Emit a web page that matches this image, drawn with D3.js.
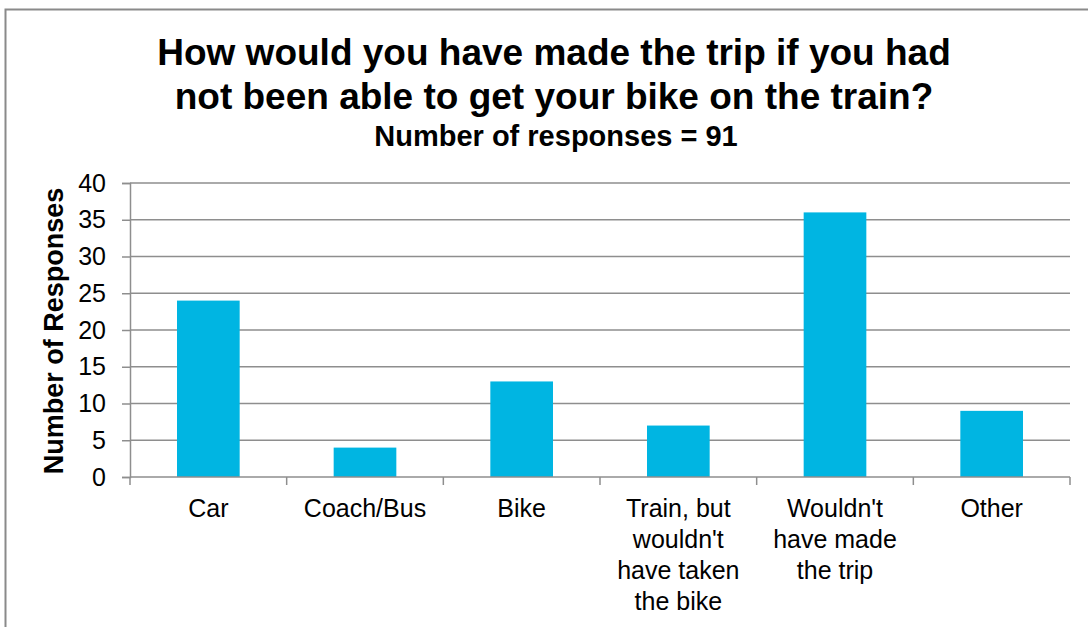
<!DOCTYPE html>
<html>
<head>
<meta charset="utf-8">
<script src="https://cdn.jsdelivr.net/npm/d3@7"></script>
<style>
  html, body { margin: 0; padding: 0; background: #fff; }
  svg { display: block; font-family: "Liberation Sans", Arial, sans-serif; }
</style>
</head>
<body>
<svg id="chart" width="1088" height="627"></svg>
<script>
// Survey answers: alternative travel mode if the bike could not go on the train
const categories = ["Car", "Coach/Bus", "Bike", "Train, but wouldn't have taken the bike", "Wouldn't have made the trip", "Other"];
const categoryLines = [["Car"], ["Coach/Bus"], ["Bike"], ["Train, but", "wouldn't", "have taken", "the bike"], ["Wouldn't", "have made", "the trip"], ["Other"]];
const responses = [24, 4, 13, 7, 36, 9];
const yTicks = [0, 5, 10, 15, 20, 25, 30, 35, 40];
const titleLines = ["How would you have made the trip if you had", "not been able to get your bike on the train?"];
const subtitle = "Number of responses = 91";
const yAxisTitle = "Number of Responses";

const svg = d3.select("#chart");
const plot = { left: 130, right: 1070, top: 183, bottom: 477 };
const gridColor = "#8e8e8e";
const barColor = "#00b5e2";

// chart area frame
svg.append("rect")
  .attr("x", 5.5).attr("y", 9.5)
  .attr("width", 1200).attr("height", 800)
  .attr("fill", "none").attr("stroke", "#8a8a8a").attr("stroke-width", 2);

// titles
const titleCx = 554;
svg.selectAll("text.title").data(titleLines).join("text")
  .attr("class", "title")
  .attr("x", titleCx).attr("y", (d, i) => 65 + i * 43.5)
  .attr("text-anchor", "middle")
  .attr("font-weight", "bold").attr("font-size", 37)
  .attr("fill", "#000")
  .text(d => d);

svg.append("text")
  .attr("x", titleCx + 2).attr("y", 146)
  .attr("text-anchor", "middle")
  .attr("font-weight", "bold").attr("font-size", 29)
  .text(subtitle);

// scales
const x = d3.scaleBand().domain(categories)
  .range([plot.left, plot.right])
  .paddingInner(0.6).paddingOuter(0.3);
const y = d3.scaleLinear().domain([0, 40]).range([plot.bottom, plot.top]);

// horizontal gridlines
svg.append("g").selectAll("line").data(yTicks.filter(t => t > 0)).join("line")
  .attr("x1", plot.left).attr("x2", plot.right)
  .attr("y1", d => y(d)).attr("y2", d => y(d))
  .attr("stroke", gridColor).attr("stroke-width", 1.5);

// y axis
const yAxis = svg.append("g")
  .attr("transform", `translate(${plot.left},0)`)
  .call(d3.axisLeft(y).tickValues(yTicks).tickSize(8).tickPadding(16));
yAxis.select(".domain").attr("stroke", gridColor).attr("stroke-width", 1.5);
yAxis.selectAll(".tick line").attr("stroke", gridColor).attr("stroke-width", 1.5);
yAxis.selectAll(".tick text")
  .attr("font-family", "Liberation Sans, Arial, sans-serif")
  .attr("font-size", 25).attr("fill", "#000");

// bars
svg.append("g").selectAll("rect").data(responses).join("rect")
  .attr("x", (d, i) => x(categories[i]))
  .attr("width", x.bandwidth())
  .attr("y", d => y(d))
  .attr("height", d => y(0) - y(d))
  .attr("fill", barColor);

// x axis with ticks on the category boundaries
const bounds = categories.map(c => x(c) - x.step() * x.paddingOuter()).concat([plot.right]);
const xg = svg.append("g");
xg.append("line")
  .attr("x1", plot.left).attr("x2", plot.right)
  .attr("y1", plot.bottom).attr("y2", plot.bottom)
  .attr("stroke", gridColor).attr("stroke-width", 1.5);
xg.selectAll("line.tk").data(bounds).join("line")
  .attr("class", "tk")
  .attr("x1", d => d).attr("x2", d => d)
  .attr("y1", plot.bottom).attr("y2", plot.bottom + 8)
  .attr("stroke", gridColor).attr("stroke-width", 1.5);

// category labels
const lab = xg.selectAll("text.cat").data(categories).join("text")
  .attr("class", "cat")
  .attr("x", d => x(d) + x.bandwidth() / 2)
  .attr("y", 517)
  .attr("text-anchor", "middle")
  .attr("font-size", 25).attr("fill", "#000");
lab.selectAll("tspan").data((d, i) => categoryLines[i]).join("tspan")
  .attr("x", function () { return d3.select(this.parentNode).attr("x"); })
  .attr("dy", (d, i) => i === 0 ? 0 : 31)
  .text(d => d);

// y axis title
svg.append("text")
  .attr("transform", `translate(63,${(plot.top + plot.bottom) / 2 + 1}) rotate(-90)`)
  .attr("text-anchor", "middle")
  .attr("font-weight", "bold").attr("font-size", 27)
  .text(yAxisTitle);
</script>
</body>
</html>
